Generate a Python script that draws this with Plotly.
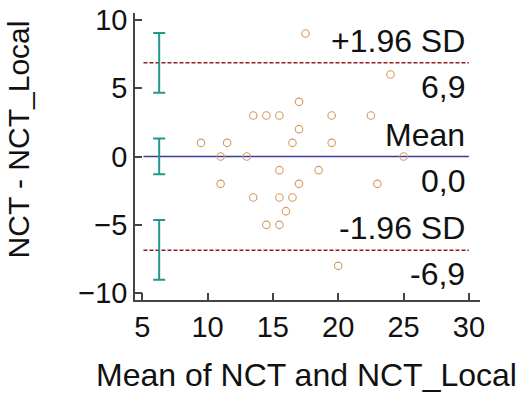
import plotly.graph_objects as go

# ---- data ----
mean_x = [9.5, 11.5, 11, 13, 13.5, 14.5, 15.5, 17.5, 24, 17, 19.5, 22.5, 17, 16.5,
          19.5, 25, 15.5, 11, 13.5, 15.5, 16.5, 17, 16, 14.5, 15.5, 18.5, 23, 20]
diff_y = [1, 1, 0, 0, 3, 3, 3, 9, 6, 4, 3, 3, 2, 1,
          1, 0, -1, -2, -3, -3, -3, -2, -4, -5, -5, -1, -2, -8]

bias = 0.0
upper_loa = 6.86
lower_loa = -6.86
ci_x = 6.3
ci_centers = [upper_loa, bias, lower_loa]
ci_plus = [9.03 - upper_loa, 1.32, -4.64 - lower_loa]
ci_minus = [upper_loa - 4.66, 1.30, lower_loa + 9.01]

line_x = [5.1, 30]
x_ticks = [5, 10, 15, 20, 25, 30]
y_ticks = [-10, -5, 0, 5, 10]
labels = [("+1.96 SD", "6,9", upper_loa), ("Mean", "0,0", bias), ("-1.96 SD", "-6,9", lower_loa)]

FONT = "Arial, Liberation Sans, sans-serif"
fig = go.Figure()

# limit lines
fig.add_trace(go.Scatter(x=line_x, y=[upper_loa] * 2, mode="lines",
                         line=dict(color="#8b1f24", width=1.5, dash="4px,2px"), hoverinfo="skip"))
fig.add_trace(go.Scatter(x=line_x, y=[lower_loa] * 2, mode="lines",
                         line=dict(color="#8b1f24", width=1.5, dash="4px,2px"), hoverinfo="skip"))
fig.add_trace(go.Scatter(x=line_x, y=[bias] * 2, mode="lines",
                         line=dict(color="#3b3b9e", width=1.5), hoverinfo="skip"))

# confidence interval bars
fig.add_trace(go.Scatter(x=[ci_x] * 3, y=ci_centers, mode="markers",
                         marker=dict(size=1, color="rgba(0,0,0,0)"),
                         error_y=dict(type="data", symmetric=False, array=ci_plus, arrayminus=ci_minus,
                                      color="#23968f", thickness=2, width=6)))

# points
fig.add_trace(go.Scatter(x=mean_x, y=diff_y, mode="markers",
                         marker=dict(symbol="circle-open", size=7.5, color="#d49a62",
                                     line=dict(width=1.1, color="#d49a62"))))

for top, bottom, yv in labels:
    fig.add_annotation(x=30, y=yv, xref="x", yref="y", text=top, showarrow=False,
                       xanchor="right", yanchor="bottom", xshift=-2, yshift=2,
                       font=dict(family=FONT, size=32, color="#111"))
    fig.add_annotation(x=30, y=yv, xref="x", yref="y", text=bottom, showarrow=False,
                       xanchor="right", yanchor="top", xshift=-2, yshift=-4,
                       font=dict(family=FONT, size=32, color="#111"))

fig.add_annotation(x=0.496, y=-0.26, xref="paper", yref="paper", text="Mean of NCT and NCT_Local",
                   showarrow=False, xanchor="center", yanchor="middle",
                   font=dict(family=FONT, size=32, color="#111"))
fig.add_annotation(x=-0.335, y=0.561, xref="paper", yref="paper", text="NCT - NCT_Local",
                   showarrow=False, textangle=-90, xanchor="center", yanchor="middle",
                   font=dict(family=FONT, size=30, color="#111"))

axis_common = dict(showgrid=False, zeroline=False, showline=True, linecolor="#444", linewidth=1.5,
                   ticks="inside", ticklen=7, tickwidth=1.5, tickcolor="#444", automargin=False,
                   tickfont=dict(family=FONT, size=29, color="#111"))
fig.update_xaxes(range=[4.45, 30.85], tickvals=x_ticks, **axis_common)
fig.update_yaxes(range=[-10.5, 10.5], tickvals=y_ticks, **axis_common)

fig.update_layout(width=516, height=398, margin=dict(l=135, r=36, t=13, b=98, autoexpand=False),
                  plot_bgcolor="white", paper_bgcolor="white", showlegend=False)

fig.write_html("out.html", config={"displayModeBar": False},
               post_script="document.body.style.margin='0';")
